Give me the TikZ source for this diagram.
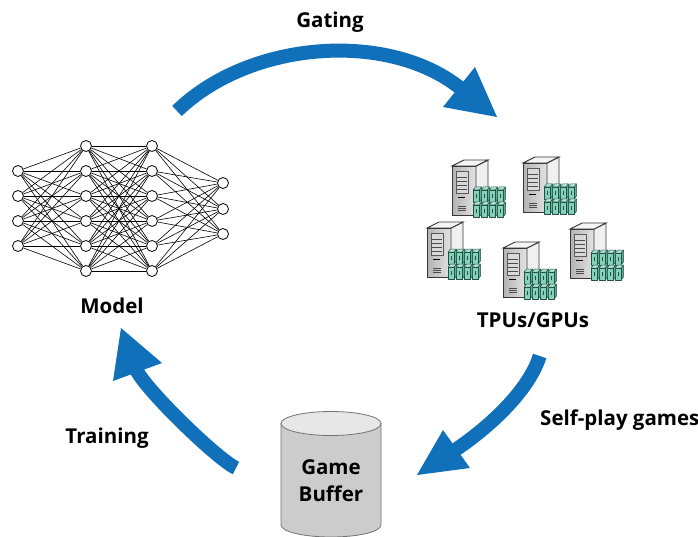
\documentclass[tikz,border=0pt]{standalone}
\usepackage{fontspec}
\setmainfont{Open Sans}
\definecolor{arrowblue}{RGB}{16,112,185}
\definecolor{cubeteal}{RGB}{132,210,186}
\definecolor{cubetop}{RGB}{175,230,212}
\definecolor{cubeside}{RGB}{96,176,152}
\definecolor{cubeline}{RGB}{35,80,68}
\definecolor{towerline}{RGB}{55,55,55}
\definecolor{drumbody}{RGB}{204,204,204}
\definecolor{drumtop}{RGB}{231,231,231}
\definecolor{drumline}{RGB}{115,115,115}
\tikzset{
  lbl/.style={font=\bfseries\fontsize{20.5}{24}\selectfont, text=black, inner sep=0pt},
  neuron/.style={circle, draw=black, fill=white, line width=0.8pt, minimum size=11pt, inner sep=0pt},
  synapse/.style={line width=0.6pt, draw=black},
  flow/.style={line width=14pt, draw=arrowblue},
  flowhead/.style={fill=arrowblue},
  cubeedge/.style={draw=cubeline, line width=0.5pt, line join=round},
  % a tower server with a 4x2 block of accelerator cards, origin at the
  % bottom-left corner of the tower front
  server/.pic={
    \draw[towerline, line width=0.9pt, left color=gray!60, right color=gray!22]
      (0,0) -- (0,-49) -- (24,-49) -- (24,0) -- cycle;
    \draw[towerline, line width=0.9pt, fill=gray!12]
      (24,0) -- (24,-49) -- (36,-55) -- (36,-6) -- cycle;
    \draw[towerline, line width=0.9pt, fill=gray!8]
      (0,-49) -- (12,-55) -- (36,-55) -- (24,-49) -- cycle;
    \draw[gray!70!black, line width=0.5pt, fill=gray!30] (4,-22) rectangle (16,-44);
    \foreach \k in {-26,-30,-34,-38}
      \draw[gray!60!black, line width=0.4pt] (5,\k) -- (15,\k);
    \draw[black, line width=0.9pt] (6,-18) -- (13,-18);
    \foreach \k in {-9,-7,-5}
      \draw[gray!60!black, line width=0.4pt] (6,\k) -- (14,\k);
    \foreach \r in {1,0}
      \foreach \c in {3,2,1,0} {
        \pgfmathsetmacro\xa{21+8*\c}
        \pgfmathsetmacro\ya{2-15*\r}
        \draw[cubeedge, fill=cubeside]
          (\xa+6,\ya) -- (\xa+8.5,\ya-3) -- (\xa+8.5,\ya-15) -- (\xa+6,\ya-12) -- cycle;
        \draw[cubeedge, fill=cubetop]
          (\xa,\ya-12) -- (\xa+2.5,\ya-15) -- (\xa+8.5,\ya-15) -- (\xa+6,\ya-12) -- cycle;
        \draw[cubeedge, fill=cubeteal] (\xa,\ya) rectangle (\xa+6,\ya-12);
        \draw[cubeline, line width=0.35pt] (\xa+3,\ya-4) -- (\xa+3,\ya-8);
      }
  }
}
\begin{document}
\begin{tikzpicture}[x=1pt, y=-1pt]
\useasboundingbox (0,0) rectangle (698,537);

% ---------------- neural network ----------------
\foreach \i/\y in {1/171,2/196,3/221,4/246}
  \node[neuron] (a\i) at (18,\y) {};
\foreach \i/\y in {1/146,2/171,3/196,4/221,5/246,6/271}
  \node[neuron] (b\i) at (86,\y) {};
\foreach \i/\y in {1/146,2/171,3/196,4/221,5/246,6/271}
  \node[neuron] (c\i) at (152,\y) {};
\foreach \i/\y in {1/183,2/209,3/234}
  \node[neuron] (d\i) at (223,\y) {};
\foreach \i in {1,...,4}
  \foreach \j in {1,...,6}
    \draw[synapse] (a\i) -- (b\j);
\foreach \i in {1,...,6}
  \foreach \j in {1,...,6}
    \draw[synapse] (b\i) -- (c\j);
\foreach \i in {1,...,6}
  \foreach \j in {1,...,3}
    \draw[synapse] (c\i) -- (d\j);
\node[lbl, anchor=base] (model) at (112,313.5) {Model};

% ---------------- servers ----------------
\pic (s1) at (452,215) {server};
\pic (s2) at (523,212) {server};
\pic (s3) at (427,277) {server};
\pic (s5) at (570,278) {server};
\pic (s4) at (503,297) {server};
\node[lbl, anchor=base] (tpus) at (533,327) {TPUs/GPUs};

% ---------------- game buffer ----------------
\draw[drumline, line width=0.8pt, fill=drumbody]
  (281,423.5) -- (281,525) arc[start angle=180, end angle=360, x radius=50, y radius=-12]
  -- (381,423.5) -- cycle;
\draw[drumline, line width=0.8pt, fill=drumtop]
  (331,423.5) ellipse[x radius=50, y radius=12];
\node[lbl, anchor=base] (game) at (331,474) {Game};
\node[lbl, anchor=base] (buffer) at (331,501.5) {Buffer};

% ---------------- cycle arrows ----------------
\coordinate (gStart) at (177,111);
\coordinate (gEnd) at (462,89.5);
\draw[flow] (gStart) .. controls (250,40) and (390,30) .. (gEnd);
\fill[flowhead] (475,67) -- (497,117) -- (443,107) -- cycle;
\node[lbl, anchor=base] (gating) at (330,27.5) {Gating};

\coordinate (pStart) at (539.7,356);
\coordinate (pEnd) at (453.3,451.2);
\draw[flow] (pStart) .. controls (527.7,394) and (482.7,432) .. (pEnd);
\fill[flowhead] (443,430) -- (470,468) -- (417,475) -- cycle;
\node[lbl, anchor=base west] (selfplay) at (540,425) {Self-play games};

\coordinate (tStart) at (236,468);
\coordinate (tEnd) at (135.5,368);
\draw[flow] (tStart) .. controls (217.8,459.8) and (142.3,386.8) .. (tEnd);
\fill[flowhead] (162,363) -- (121,328) -- (113,381) -- cycle;
\node[lbl, anchor=base] (training) at (107,443) {Training};
\end{tikzpicture}
\end{document}
